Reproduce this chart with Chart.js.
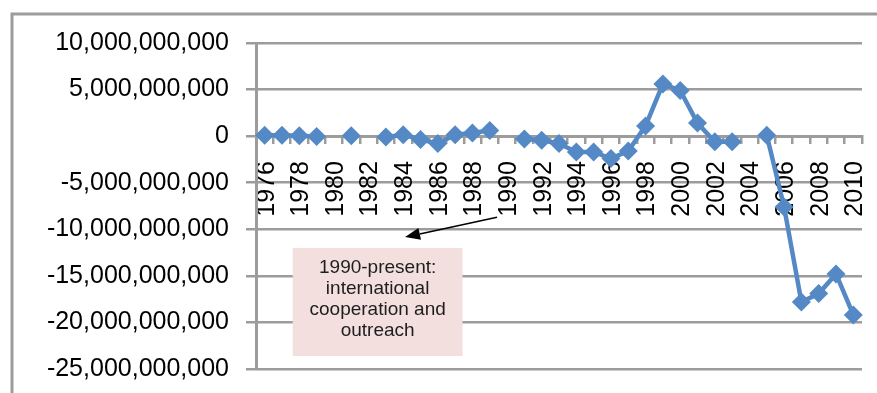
<!DOCTYPE html>
<html>
<head>
<meta charset="utf-8">
<script src="https://cdn.jsdelivr.net/npm/chart.js@4/dist/chart.umd.min.js"></script>
<style>
  html, body { margin: 0; padding: 0; background: #fff; overflow: hidden; }
  canvas { display: block; }
</style>
</head>
<body>
<canvas id="chart" width="877" height="393"></canvas>
<script>
// Yearly categories (1976-2010)
const years = ['1976','1977','1978','1979','1980','1981','1982','1983','1984','1985',
               '1986','1987','1988','1989','1990','1991','1992','1993','1994','1995',
               '1996','1997','1998','1999','2000','2001','2002','2003','2004','2005',
               '2006','2007','2008','2009','2010'];

// Net values per year; null = no data for that year
const netValues = [100000000, 100000000, 50000000, -50000000, null, 50000000, null, -100000000, 150000000, -350000000,
                   -800000000, 150000000, 350000000, 600000000, null, -300000000, -450000000, -800000000, -1700000000, -1700000000,
                   -2400000000, -1600000000, 1100000000, 5600000000, 4900000000, 1400000000, -600000000, -600000000, null, 100000000,
                   -7600000000, -17800000000, -16900000000, -14800000000, -19200000000];

// Labelled years on the category axis
const labelledYears = ['1976','1978','1980','1982','1984','1986','1988','1990','1992',
                       '1994','1996','1998','2000','2002','2004','2006','2008','2010'];

// Value axis ticks
const valueTicks = [10000000000, 5000000000, 0, -5000000000, -10000000000,
                    -15000000000, -20000000000, -25000000000];

// Callout text
const noteLines = ['1990-present:', 'international', 'cooperation and', 'outreach'];

const GRID = '#9c9c9c';
const BLUE = '#5489c5';
const FONT = "'Liberation Sans', Arial, sans-serif";

const decorations = {
  id: 'decorations',
  beforeDraw(chart) {
    const ctx = chart.ctx;
    ctx.save();
    ctx.strokeStyle = GRID;
    ctx.lineWidth = 3;
    ctx.beginPath();
    ctx.moveTo(12, chart.height + 5);
    ctx.lineTo(12, 14);
    ctx.lineTo(chart.width + 5, 14);
    ctx.stroke();
    ctx.restore();
  },
  afterDraw(chart) {
    const ctx = chart.ctx;
    const xs = chart.scales.x, ys = chart.scales.y;
    // callout box
    const bx0 = xs.getPixelForValue(1.62), bx1 = xs.getPixelForValue(11.43);
    const by0 = ys.getPixelForValue(-12.0e9), by1 = ys.getPixelForValue(-23.6e9);
    ctx.save();
    ctx.fillStyle = '#f2dfde';
    ctx.fillRect(bx0, by0, bx1 - bx0, by1 - by0);
    ctx.fillStyle = '#1e1e1e';
    ctx.font = '19px ' + FONT;
    ctx.textAlign = 'center';
    ctx.textBaseline = 'middle';
    const cx = (bx0 + bx1) / 2, cy = (by0 + by1) / 2 - 3;
    noteLines.forEach((t, i) => ctx.fillText(t, cx, cy + (i - 1.5) * 21));
    // arrow
    const ax0 = xs.getPixelForValue(13.42), ay0 = ys.getPixelForValue(-8.7e9);
    const ax1 = xs.getPixelForValue(8.11), ay1 = ys.getPixelForValue(-10.84e9);
    const ang = Math.atan2(ay1 - ay0, ax1 - ax0);
    const headLen = 15, headW = 6;
    const hx = ax1 - Math.cos(ang) * headLen, hy = ay1 - Math.sin(ang) * headLen;
    ctx.strokeStyle = '#000';
    ctx.lineWidth = 1.5;
    ctx.beginPath();
    ctx.moveTo(ax0, ay0);
    ctx.lineTo(hx, hy);
    ctx.stroke();
    ctx.fillStyle = '#000';
    ctx.beginPath();
    ctx.moveTo(ax1, ay1);
    ctx.lineTo(hx + Math.sin(ang) * headW, hy - Math.cos(ang) * headW);
    ctx.lineTo(hx - Math.sin(ang) * headW, hy + Math.cos(ang) * headW);
    ctx.closePath();
    ctx.fill();
    ctx.restore();
  }
};

new Chart(document.getElementById('chart'), {
  type: 'line',
  data: {
    labels: years,
    datasets: [{
      data: netValues,
      borderColor: BLUE,
      backgroundColor: BLUE,
      borderWidth: 4.5,
      pointStyle: 'rectRot',
      pointRadius: 9.5,
      pointBorderWidth: 0,
      pointBackgroundColor: BLUE,
      spanGaps: false,
      tension: 0
    }]
  },
  options: {
    responsive: false,
    animation: false,
    events: [],
    layout: { padding: { left: 20, top: 43, right: 15, bottom: 24 } },
    plugins: { legend: { display: false }, tooltip: { enabled: false } },
    scales: {
      x: {
        type: 'category',
        position: { y: 0 },
        offset: true,
        afterFit(scale) {
          scale.height = 0;
          scale.paddingLeft = 0; scale.paddingRight = 0;
          scale.paddingTop = 0; scale.paddingBottom = 0;
        },
        grid: { drawOnChartArea: false, drawTicks: true, tickLength: 6, color: GRID, lineWidth: 2.5, offset: true },
        border: { display: true, color: GRID, width: 3 },
        ticks: {
          autoSkip: false,
          minRotation: 90,
          maxRotation: 90,
          padding: 19,
          labelOffset: 2,
          color: '#000',
          font: { family: FONT, size: 25 },
          callback(value) {
            const lab = this.getLabelForValue(value);
            return labelledYears.includes(lab) ? lab : '';
          }
        }
      },
      y: {
        min: -25000000000,
        max: 10000000000,
        afterFit(scale) {
          scale.width = 236;
          scale.paddingTop = 0; scale.paddingBottom = 0;
        },
        afterBuildTicks(scale) { scale.ticks = valueTicks.map(v => ({ value: v })); },
        grid: { color: GRID, lineWidth: 2.5, tickLength: 10, drawTicks: true },
        border: { display: true, color: GRID, width: 3 },
        ticks: {
          padding: 17,
          color: '#000',
          font: { family: FONT, size: 25 },
          callback(value) { return Number(value).toLocaleString('en-US'); }
        }
      }
    }
  },
  plugins: [decorations]
});
</script>
</body>
</html>
